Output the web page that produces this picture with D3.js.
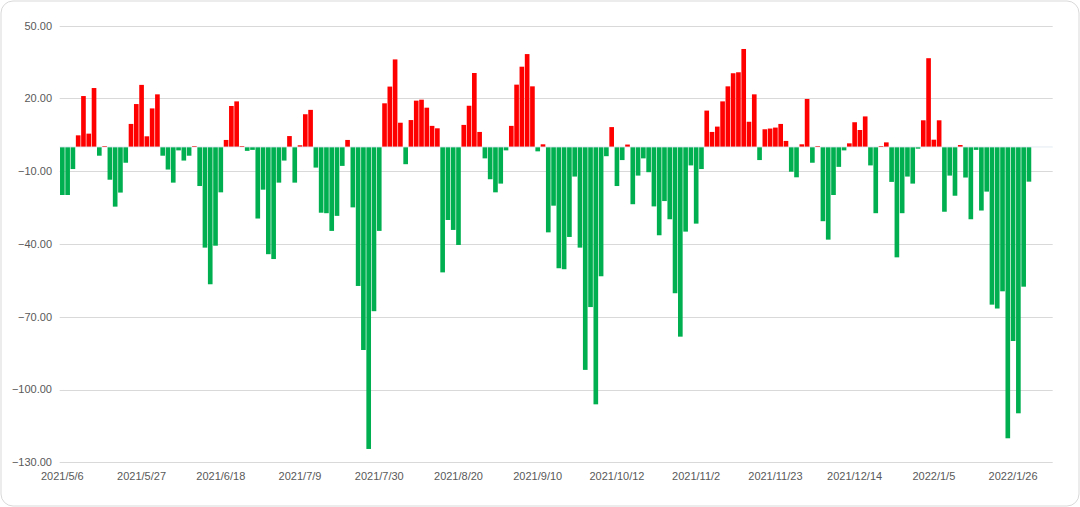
<!DOCTYPE html>
<html>
<head>
<meta charset="utf-8">
<script src="https://cdn.jsdelivr.net/npm/d3@7"></script>
<style>
  html, body { margin: 0; padding: 0; background: #ffffff; }
  svg { display: block; }
</style>
</head>
<body>
<svg id="chart" width="1080" height="507"></svg>
<script>
// ---- data ----
const categories = [
  "2021/5/6","2021/5/7","2021/5/10","2021/5/11","2021/5/12","2021/5/13","2021/5/14","2021/5/17","2021/5/18","2021/5/19",
  "2021/5/20","2021/5/21","2021/5/24","2021/5/25","2021/5/26","2021/5/27","2021/5/28","2021/5/31",
  "2021/6/1","2021/6/2","2021/6/3","2021/6/4","2021/6/7","2021/6/8","2021/6/9","2021/6/10","2021/6/11","2021/6/15",
  "2021/6/16","2021/6/17","2021/6/18","2021/6/21","2021/6/22","2021/6/23","2021/6/24","2021/6/25","2021/6/28","2021/6/29","2021/6/30",
  "2021/7/1","2021/7/2","2021/7/5","2021/7/6","2021/7/7","2021/7/8","2021/7/9","2021/7/12","2021/7/13","2021/7/14",
  "2021/7/15","2021/7/16","2021/7/19","2021/7/20","2021/7/21","2021/7/22","2021/7/23","2021/7/26","2021/7/27","2021/7/28","2021/7/29","2021/7/30",
  "2021/8/2","2021/8/3","2021/8/4","2021/8/5","2021/8/6","2021/8/9","2021/8/10","2021/8/11","2021/8/12","2021/8/13",
  "2021/8/16","2021/8/17","2021/8/18","2021/8/19","2021/8/20","2021/8/23","2021/8/24","2021/8/25","2021/8/26","2021/8/27","2021/8/30","2021/8/31",
  "2021/9/1","2021/9/2","2021/9/3","2021/9/6","2021/9/7","2021/9/8","2021/9/9","2021/9/10","2021/9/13","2021/9/14",
  "2021/9/15","2021/9/16","2021/9/17","2021/9/22","2021/9/23","2021/9/24","2021/9/27","2021/9/28","2021/9/29","2021/9/30",
  "2021/10/8","2021/10/11","2021/10/12","2021/10/13","2021/10/14","2021/10/15","2021/10/18","2021/10/19","2021/10/20","2021/10/21",
  "2021/10/22","2021/10/25","2021/10/26","2021/10/27","2021/10/28","2021/10/29",
  "2021/11/1","2021/11/2","2021/11/3","2021/11/4","2021/11/5","2021/11/8","2021/11/9","2021/11/10","2021/11/11","2021/11/12",
  "2021/11/15","2021/11/16","2021/11/17","2021/11/18","2021/11/19","2021/11/22","2021/11/23","2021/11/24","2021/11/25","2021/11/26","2021/11/29","2021/11/30",
  "2021/12/1","2021/12/2","2021/12/3","2021/12/6","2021/12/7","2021/12/8","2021/12/9","2021/12/10","2021/12/13","2021/12/14",
  "2021/12/15","2021/12/16","2021/12/17","2021/12/20","2021/12/21","2021/12/22","2021/12/23","2021/12/24","2021/12/27","2021/12/28",
  "2021/12/29","2021/12/30","2021/12/31",
  "2022/1/4","2022/1/5","2022/1/6","2022/1/7","2022/1/10","2022/1/11","2022/1/12","2022/1/13","2022/1/14","2022/1/17",
  "2022/1/18","2022/1/19","2022/1/20","2022/1/21","2022/1/24","2022/1/25","2022/1/26","2022/1/27","2022/1/28",
  "2022/2/7","2022/2/8","2022/2/9","2022/2/10","2022/2/11"
];

const values = [
  -19.8,-19.8,-9.1,4.8,21.0,5.5,24.3,-3.6,0.4,-13.5,
  -24.6,-18.8,-6.5,9.5,17.7,25.6,4.4,15.9,21.7,-3.6,
  -9.3,-14.7,-1.4,-5.6,-3.6,0.4,-16.1,-41.5,-56.6,-40.7,
  -18.7,2.9,16.9,18.8,0.4,-1.6,-1.2,-29.5,-17.6,-44.2,
  -46.2,-14.7,-5.6,4.5,-14.7,0.7,13.5,15.3,-8.5,-27.1,
  -27.3,-34.6,-28.4,-7.8,2.9,-24.9,-57.3,-83.7,-124.5,-67.7,
  -34.6,18.0,24.9,36.1,10.0,-7.1,11.1,19.1,19.5,16.2,
  8.7,7.7,-51.7,-30.1,-34.2,-40.4,9.1,17.0,30.5,6.2,
  -4.7,-13.3,-18.7,-15.1,-1.4,8.7,25.7,33.1,38.3,25.0,
  -1.8,1.1,-35.2,-24.2,-50.0,-50.4,-37.1,-12.2,-41.5,-91.9,
  -66.0,-106.1,-53.3,-3.8,8.2,-16.1,-5.4,1.0,-23.6,-11.8,
  -4.7,-10.4,-24.5,-36.4,-22.3,-29.8,-60.3,-78.2,-34.9,-7.6,
  -31.6,-9.1,15.0,6.2,8.4,18.8,25.0,30.4,30.8,40.4,
  10.4,21.7,-5.4,7.3,7.6,8.0,9.5,2.5,-10.2,-12.5,
  1.1,19.8,-6.5,0.4,-30.6,-38.2,-19.8,-8.2,-1.4,1.5,
  10.2,7.0,12.6,-7.6,-27.3,0.4,1.9,-14.4,-45.5,-27.3,
  -12.2,-15.1,-0.7,11.0,36.6,3.0,11.0,-26.7,-11.8,-20.1,
  0.8,-12.6,-29.8,-1.2,-26.2,-18.4,-65.0,-66.6,-59.5,-120.1,
  -80.0,-109.8,-57.6,-14.3,null,null,null,null
];

const yTicks = [50, 20, -10, -40, -70, -100, -130];
const xTickLabels = ["2021/5/6","2021/5/27","2021/6/18","2021/7/9","2021/7/30","2021/8/20","2021/9/10",
  "2021/10/12","2021/11/2","2021/11/23","2021/12/14","2022/1/5","2022/1/26"];

// ---- drawing ----
const svg = d3.select("#chart");
const W = 1080, H = 507;
const plotLeft = 59.7, plotRight = 1052.7, plotTop = 25.7, plotBottom = 462.3;

svg.append("rect")
  .attr("x", 1).attr("y", 1).attr("width", W - 2).attr("height", H - 2)
  .attr("rx", 12).attr("ry", 12)
  .attr("fill", "#ffffff").attr("stroke", "#d9d9d9").attr("stroke-width", 1);

const x = d3.scaleBand().domain(categories).range([plotLeft, plotRight])
  .paddingInner(0.12).paddingOuter(0.06);
const y = d3.scaleLinear().domain([-130, 50]).range([plotBottom, plotTop]);

// gridlines
svg.append("g").selectAll("line").data(yTicks).join("line")
  .attr("x1", plotLeft).attr("x2", plotRight)
  .attr("y1", d => Math.round(y(d)) + 0.5).attr("y2", d => Math.round(y(d)) + 0.5)
  .attr("stroke", "#d9d9d9").attr("stroke-width", 1);

// y labels
const fmt = d3.format(".2f");
svg.append("g").selectAll("text").data(yTicks).join("text")
  .attr("x", 52).attr("y", d => y(d))
  .attr("dy", "0.35em")
  .attr("text-anchor", "end")
  .attr("font-family", "Liberation Sans, Arial, sans-serif")
  .attr("font-size", 11)
  .attr("fill", "#595959")
  .text(d => fmt(d));

// bars
const data = categories.map((c, i) => ({ c, v: values[i] })).filter(d => d.v !== null);
svg.append("g").selectAll("rect").data(data).join("rect")
  .attr("x", d => x(d.c))
  .attr("width", x.bandwidth())
  .attr("y", d => y(Math.max(0, d.v)))
  .attr("height", d => Math.abs(y(d.v) - y(0)))
  .attr("fill", d => d.v >= 0 ? "#ff0000" : "#00b050");

// zero axis line
svg.append("line")
  .attr("x1", plotLeft).attr("x2", plotRight)
  .attr("y1", y(0)).attr("y2", y(0))
  .attr("stroke", "#dce4ee").attr("stroke-width", 0.8);

// x labels
svg.append("g").selectAll("text").data(xTickLabels).join("text")
  .attr("x", d => x(d) + x.bandwidth() / 2)
  .attr("y", 480)
  .attr("text-anchor", "middle")
  .attr("font-family", "Liberation Sans, Arial, sans-serif")
  .attr("font-size", 11)
  .attr("fill", "#595959")
  .text(d => d);
</script>
</body>
</html>
